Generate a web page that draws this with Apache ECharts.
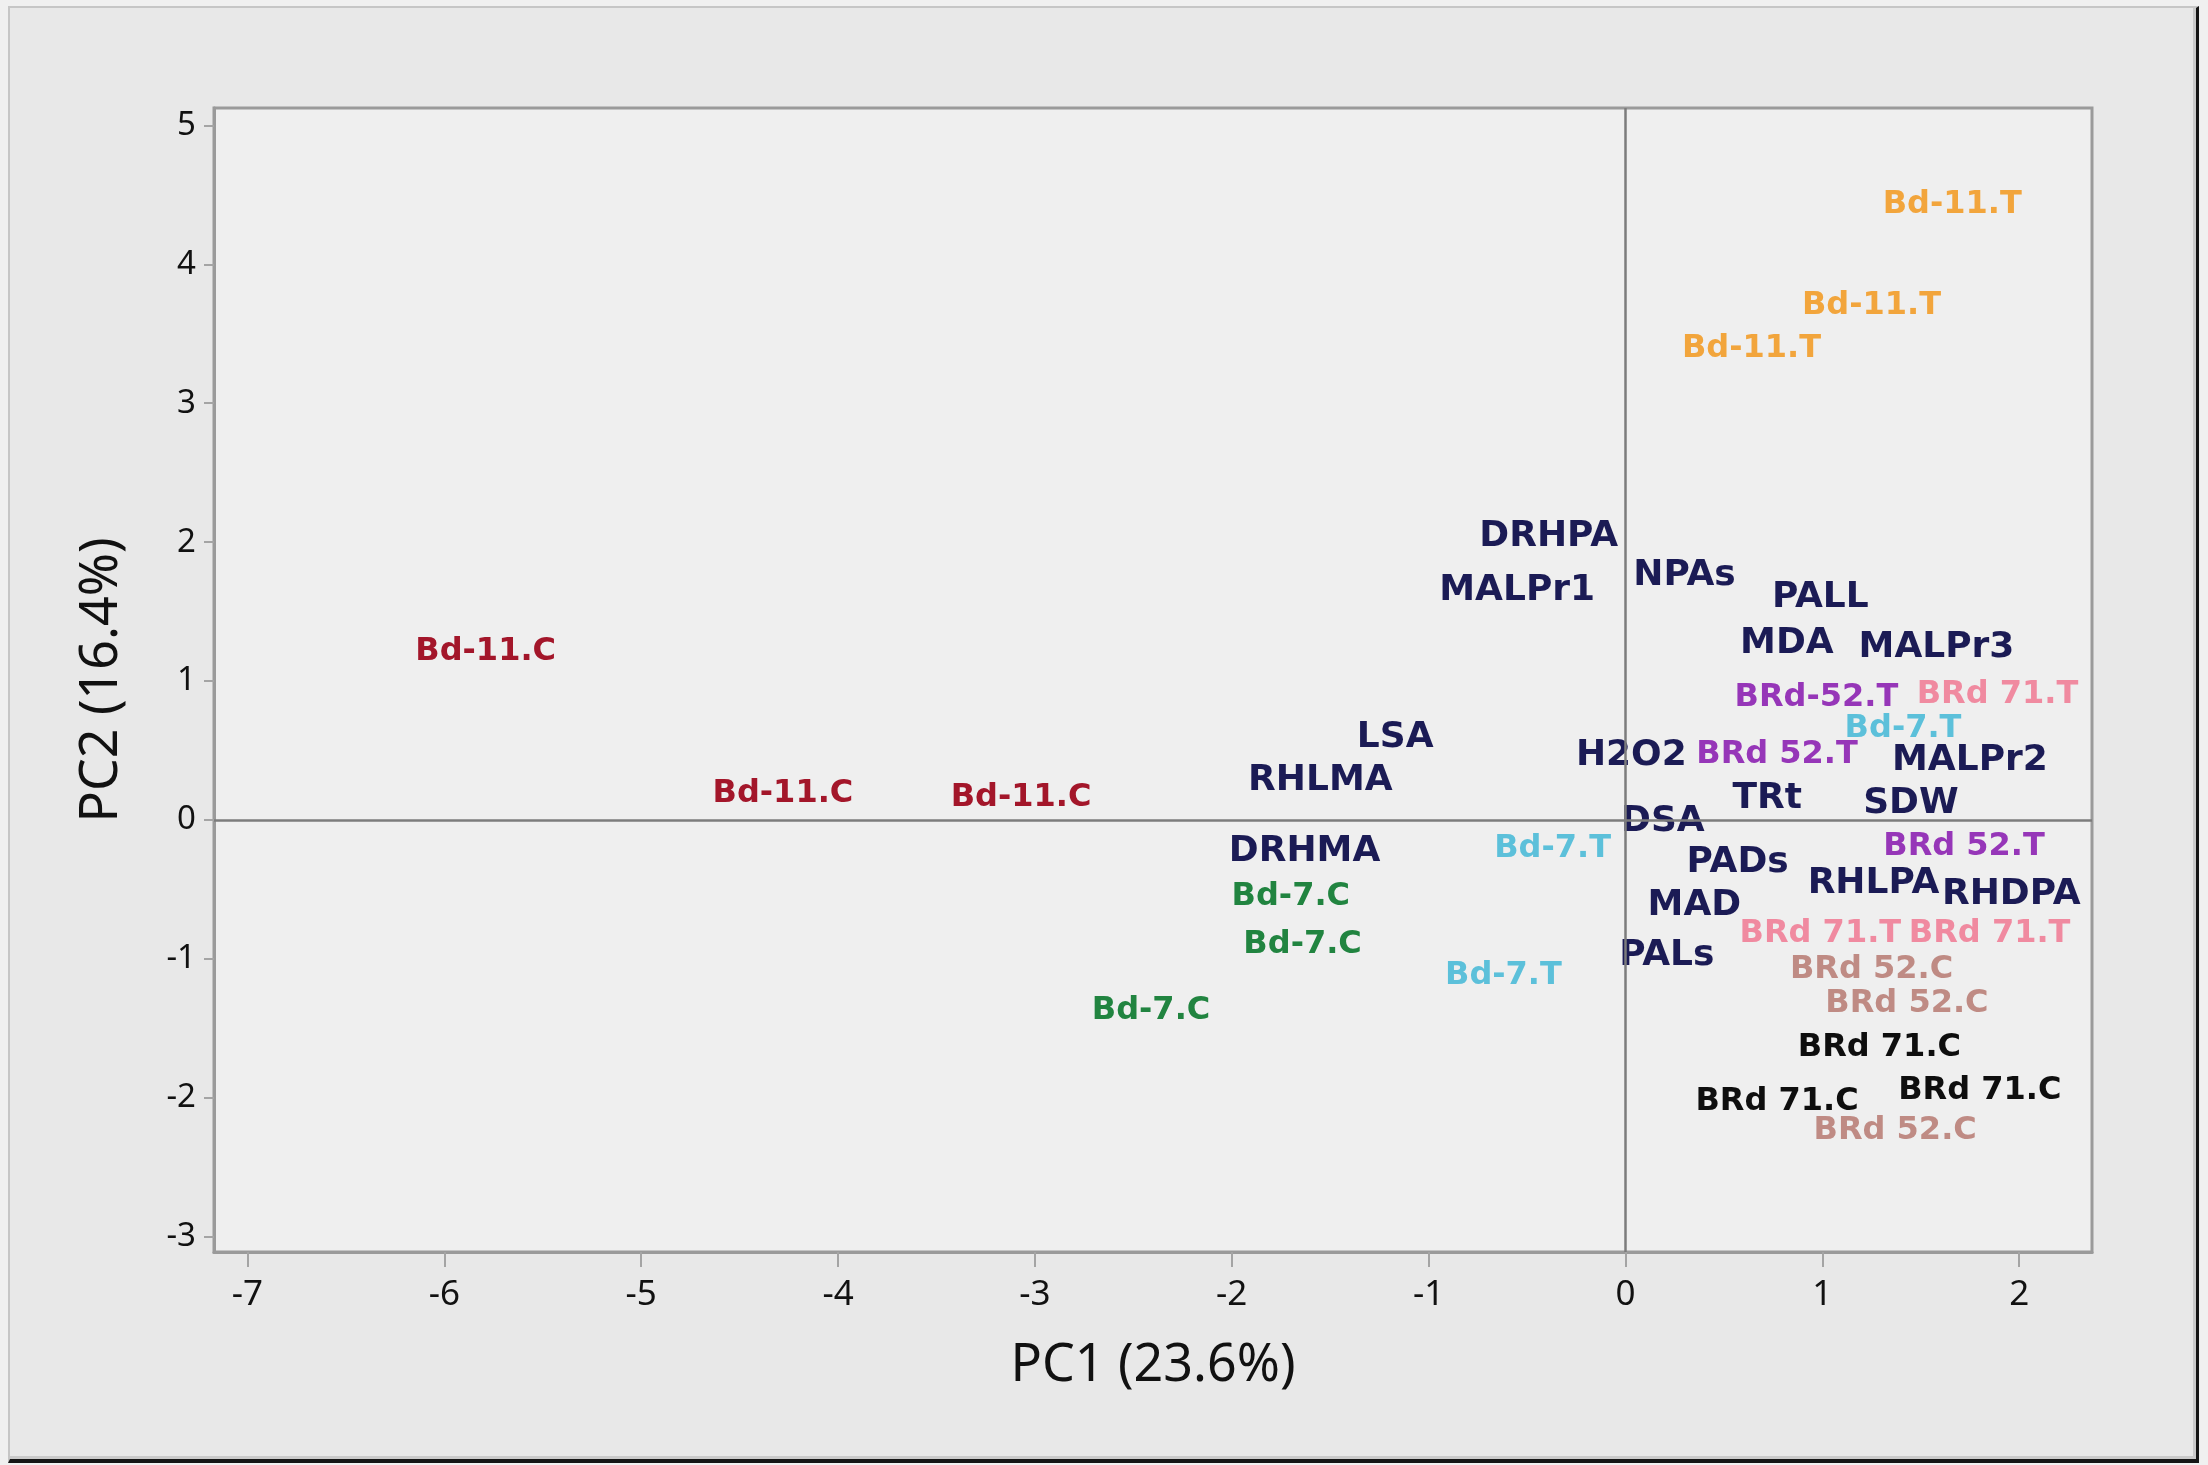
<!DOCTYPE html>
<html>
<head>
<meta charset="utf-8">
<title>PCA biplot</title>
<script src="https://cdn.jsdelivr.net/npm/echarts@6/dist/echarts.min.js"></script>
<style>
html, body { margin: 0; padding: 0; background: #f0f0f0; }
#frame {
    position: absolute; left: 8px; top: 6px; width: 2186px; height: 1451px;
    background: #e8e8e8;
    border-left: 2px solid #c6c6c6; border-top: 2px solid #c6c6c6;
    border-right: 3px solid #151515; border-bottom: 4px solid #151515;
    box-shadow: inset -3px -3px 0 #cacaca;
}
#chart { position: absolute; left: 0; top: 0; width: 2208px; height: 1465px; }
</style>
</head>
<body>
<div id="frame"></div>
<div id="chart"></div>
<script>
// axis ticks
var xTicks = [-7, -6, -5, -4, -3, -2, -1, 0, 1, 2]
var yTicks = [-3, -2, -1, 0, 1, 2, 3, 4, 5]

// variable loadings (navy labels)
var varLabels = ['DRHPA', 'MALPr1', 'NPAs', 'PALL', 'MDA', 'MALPr3', 'LSA', 'RHLMA', 'H2O2', 'MALPr2',
    'TRt', 'SDW', 'DSA', 'DRHMA', 'PADs', 'RHLPA', 'RHDPA', 'MAD', 'PALs']
var varPC1 = [-0.39, -0.55, 0.30, 0.99, 0.82, 1.58, -1.17, -1.55, 0.03, 1.75,
    0.72, 1.45, 0.19, -1.63, 0.57, 1.26, 1.96, 0.35, 0.21]
var varPC2 = [2.04, 1.65, 1.76, 1.60, 1.27, 1.24, 0.59, 0.28, 0.46, 0.43,
    0.15, 0.12, -0.01, -0.23, -0.31, -0.46, -0.54, -0.62, -0.98]

// sample scores
var groups = ['Bd-11.T', 'Bd-11.C', 'Bd-7.C', 'Bd-7.T', 'BRd 52.T', 'BRd 71.T', 'BRd 52.C', 'BRd 71.C']
var sampleGroup = ['Bd-11.T', 'Bd-11.T', 'Bd-11.T',
    'Bd-11.C', 'Bd-11.C', 'Bd-11.C',
    'Bd-7.C', 'Bd-7.C', 'Bd-7.C',
    'Bd-7.T', 'Bd-7.T', 'Bd-7.T',
    'BRd 52.T', 'BRd 52.T', 'BRd 52.T',
    'BRd 71.T', 'BRd 71.T', 'BRd 71.T',
    'BRd 52.C', 'BRd 52.C', 'BRd 52.C',
    'BRd 71.C', 'BRd 71.C', 'BRd 71.C']
var sampleLabels = ['Bd-11.T', 'Bd-11.T', 'Bd-11.T',
    'Bd-11.C', 'Bd-11.C', 'Bd-11.C',
    'Bd-7.C', 'Bd-7.C', 'Bd-7.C',
    'Bd-7.T', 'Bd-7.T', 'Bd-7.T',
    'BRd-52.T', 'BRd 52.T', 'BRd 52.T',
    'BRd 71.T', 'BRd 71.T', 'BRd 71.T',
    'BRd 52.C', 'BRd 52.C', 'BRd 52.C',
    'BRd 71.C', 'BRd 71.C', 'BRd 71.C']
var samplePC1 = [1.66, 1.25, 0.64,
    -5.79, -4.28, -3.07,
    -1.70, -1.64, -2.41,
    1.41, -0.37, -0.62,
    0.97, 0.77, 1.72,
    1.89, 0.99, 1.85,
    1.25, 1.43, 1.37,
    1.29, 0.77, 1.80]
var samplePC2 = [4.43, 3.70, 3.39,
    1.21, 0.19, 0.16,
    -0.55, -0.90, -1.37,
    0.66, -0.21, -1.12,
    0.88, 0.47, -0.19,
    0.90, -0.82, -0.82,
    -1.08, -1.32, -2.24,
    -1.64, -2.03, -1.95]

var groupColors = {
    'Bd-11.T': '#f2a53c',
    'Bd-11.C': '#a3162a',
    'Bd-7.C': '#218440',
    'Bd-7.T': '#5cc0da',
    'BRd 52.T': '#9636b8',
    'BRd 71.T': '#f08aa0',
    'BRd 52.C': '#bf8b84',
    'BRd 71.C': '#0e0e0e'
}

var axisGray = '#9a9a9a'
var tickFont = 'Noto Sans'

var chart = echarts.init(document.getElementById('chart'), null, { renderer: 'canvas' })

var series = []

// zero reference lines
series.push({
    type: 'scatter',
    data: [],
    z: 1,
    silent: true,
    markLine: {
        silent: true,
        symbol: 'none',
        label: { show: false },
        animation: false,
        lineStyle: { color: '#7c7c7c', width: 2.5, type: 'solid' },
        data: [{ xAxis: 0 }, { yAxis: 0 }]
    }
})

series.push({
    name: 'variables',
    type: 'scatter',
    symbolSize: 0,
    z: 4,
    itemStyle: { opacity: 1 },
    data: varLabels.map((t, i) => ({ name: t, value: [varPC1[i], varPC2[i]] })),
    label: {
        show: true,
        position: 'inside',
        formatter: p => p.name,
        color: '#1b1b55',
        opacity: 1,
        fontFamily: 'DejaVu Sans',
        fontWeight: 'bold',
        fontSize: 36
    }
})

groups.forEach(g => {
    var data = []
    sampleLabels.forEach((t, i) => {
        if (sampleGroup[i] === g) data.push({ name: t, value: [samplePC1[i], samplePC2[i]] })
    })
    series.push({
        name: g,
        type: 'scatter',
        symbolSize: 0,
        z: 3,
        itemStyle: { opacity: 1 },
        data: data,
        label: {
            show: true,
            position: 'inside',
            formatter: p => p.name,
            color: groupColors[g],
            opacity: 1,
            fontFamily: 'DejaVu Sans',
            fontWeight: 'bold',
            fontSize: 32
        }
    })
})

chart.setOption({
    animation: false,
    backgroundColor: 'transparent',
    grid: {
        left: 214, top: 108, right: 116, bottom: 213,
        show: true,
        backgroundColor: '#efefef',
        borderColor: axisGray,
        borderWidth: 3
    },
    xAxis: {
        type: 'value',
        min: -7.17,
        max: 2.37,
        splitLine: { show: false },
        axisLine: { show: true, onZero: false, lineStyle: { color: axisGray, width: 3 } },
        axisTick: { show: true, length: 15, customValues: xTicks, lineStyle: { color: '#a4a4a4', width: 2 } },
        axisLabel: { customValues: xTicks, margin: 26, fontSize: 35, color: '#111', fontFamily: tickFont },
        name: 'PC1 (23.6%)',
        nameLocation: 'middle',
        nameGap: 88,
        nameTextStyle: { fontSize: 52, color: '#111', fontFamily: tickFont }
    },
    yAxis: {
        type: 'value',
        min: -3.11,
        max: 5.125,
        splitLine: { show: false },
        axisLine: { show: true, onZero: false, lineStyle: { color: axisGray, width: 3 } },
        axisTick: { show: true, length: 10, customValues: yTicks, lineStyle: { color: '#a4a4a4', width: 2 } },
        axisLabel: { customValues: yTicks, margin: 18, fontSize: 33, color: '#111', fontFamily: tickFont },
        name: 'PC2 (16.4%)',
        nameLocation: 'middle',
        nameGap: 86,
        nameTextStyle: { fontSize: 52, color: '#111', fontFamily: tickFont }
    },
    series: series
})

window.addEventListener('resize', function () {
    chart.resize()
})
</script>
</body>
</html>
